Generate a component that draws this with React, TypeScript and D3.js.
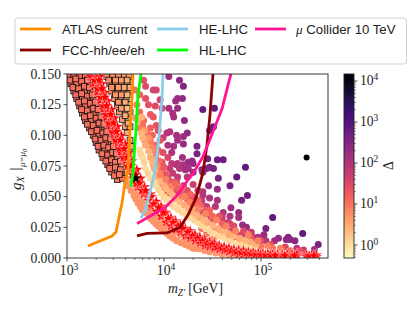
import React from "react";
import * as d3 from "d3";

// Mass values are log10(m / GeV); deltas are the colour-bar values
const outerDots: number[][] = [
  [4.05,.148,150],[4.16,.145,250],[4.20,.140,300],[4.19,.130,220],[4.14,.130,180],[4.12,.128,160],[4.05,.122,130],[4.14,.122,170],
  [4.40,.121,600],[4.52,.122,650],[4.09,.118,130],[4.10,.115,130],[4.21,.112,220],[4.24,.102,220],[4.20,.099,170],[4.13,.100,130],
  [4.14,.096,140],[4.06,.103,100],[4.03,.102,90],[4.20,.093,180],[4.10,.091,120],[4.04,.092,100],[4.34,.091,350],[4.34,.085,350],
  [4.51,.107,600],[4.47,.104,550],[4.08,.086,100],[4.19,.082,130],[4.45,.081,450],[4.55,.080,500],[4.61,.080,550],[4.84,.074,750],
  [4.29,.079,200],[4.25,.078,180],[4.30,.077,200],[4.20,.076,120],[4.13,.076,100],[4.22,.072,130],[4.47,.074,350],[4.51,.073,400],
  [4.44,.073,300],[4.39,.072,250],[4.40,.070,220],[4.46,.059,180],[4.56,.065,350],[4.75,.066,650],[4.68,.059,450],[4.55,.056,170],
  [4.86,.051,450],[4.80,.047,400],[5.12,.033,650],[5.05,.024,350],[5.43,.020,700],[5.59,.011,400],[5.55,.007,180],
];
const midDots: number[][] = [
  [3.99,.098,60],[4.14,.077,90],[4.08,.077,70],[4.06,.073,60],[4.16,.073,90],[4.25,.073,130],[4.30,.070,150],[4.09,.069,60],
  [4.14,.066,60],[4.24,.066,90],[3.99,.069,40],[4.04,.065,40],[3.99,.062,30],[4.06,.061,40],[4.13,.062,50],[4.20,.059,60],
  [3.96,.058,22],[4.01,.055,25],[4.09,.057,30],[4.14,.054,35],[4.06,.053,25],[4.47,.049,100],[4.55,.047,120],[4.40,.054,90],
  [4.40,.051,80],[4.39,.046,60],[4.44,.042,60],[4.53,.042,80],[4.69,.041,150],[4.61,.037,90],[4.77,.037,170],[4.68,.034,100],
  [4.60,.033,60],[4.77,.033,130],[4.81,.027,170],[4.85,.025,180],[4.61,.029,45],[4.66,.029,50],[4.47,.035,35],[4.49,.032,30],
  [4.40,.037,30],[4.59,.025,28],[4.69,.022,30],[5.03,.019,180],[4.92,.017,80],[4.97,.017,100],[4.87,.015,50],[5.05,.014,90],
  [4.94,.013,50],[5.18,.016,200],[5.14,.014,150],[5.28,.017,280],[5.26,.015,250],[5.30,.015,250],[5.35,.014,250],[5.37,.008,80],
  [5.44,.0065,60],[5.44,.004,30],[4.81,.019,60],[4.76,.019,50],[4.71,.020,40],[4.80,.016,35],[4.66,.016,20],[4.73,.016,25],
  [4.56,.019,14],[4.51,.016,8],[4.44,.020,10],[4.42,.029,20],[4.51,.024,20],[4.39,.024,12],
];
const leftDots: number[][] = [
  [3.79,.145,25],[3.81,.140,30],[3.89,.137,40],[3.92,.137,40],[3.81,.130,25],[3.84,.125,25],[3.91,.124,30],[3.96,.129,45],
  [3.98,.122,40],[3.86,.117,18],[3.89,.115,20],[3.75,.119,12],[3.79,.112,12],[3.78,.108,11],[3.92,.108,25],[3.86,.106,15],
  [3.94,.104,25],[3.82,.102,12],[3.88,.100,14],[3.77,.102,8],[3.75,.106,8],[3.70,.137,10],[3.75,.133,14],[3.72,.125,8],
  [3.71,.114,6],[3.91,.092,14],[3.96,.096,22],[3.86,.095,8],[3.80,.096,5],[3.94,.088,14],[3.99,.086,25],[4.04,.082,35],
  [3.98,.078,22],[3.91,.082,10],[3.86,.088,6],[3.94,.073,12],[3.89,.076,5],
];
const fillDots: number[][] = [
  [3.80,.104,4],[3.84,.098,5],[3.88,.090,6],[3.92,.085,8],[3.95,.079,12],[3.90,.080,4],[3.93,.075,6],[3.97,.071,10],[4.00,.074,18],
  [4.02,.068,20],[3.98,.064,8],[4.03,.059,8],[4.07,.056,10],[4.09,.062,22],[4.14,.057,16],[4.18,.054,18],[4.16,.049,9],[4.24,.048,12],
  [4.24,.055,30],[4.30,.050,25],[4.31,.044,10],[4.37,.043,14],[4.43,.039,18],[4.47,.039,14],[4.50,.034,14],[4.57,.034,22],[4.60,.028,18],
  [4.68,.028,40],[4.72,.026,30],[4.58,.021,8],[4.69,.019,10],[4.82,.022,30],[4.90,.021,50],[5.00,.014,30],[5.10,.011,25],[5.25,.009,30],
  [5.40,.006,25],[4.78,.013,5],[4.90,.016,20],[5.00,.009,10],[5.12,.008,10],[5.30,.006,12],[4.30,.060,50],[4.35,.055,60],
];
const paleDots: number[][] = [
  [3.75,.088,1],[3.78,.082,1],[3.81,.073,1],[3.86,.065,1],[3.92,.059,1],[3.97,.053,1],[4.03,.047,1],[4.10,.042,1],
  [4.19,.037,1],[4.27,.033,1],[4.35,.029,1],[4.43,.024,1],[4.52,.020,1],[4.62,.016,1],[4.74,.012,1],[4.85,.010,1],
  [3.76,.085,1.2],[3.795,.078,1.2],[3.835,.069,1.2],[3.89,.062,1.2],[3.945,.056,1.2],[4.00,.050,1.2],[4.065,.0445,1.2],[4.145,.0395,1.2],
  [4.23,.035,1.2],[4.31,.031,1.2],[4.39,.0265,1.2],[4.475,.022,1.2],[4.57,.018,1.2],[4.68,.014,1.2],[4.80,.011,1.2],[4.92,.0085,1.2],
  [3.73,.112,3],[3.81,.092,3],[3.86,.082,3],[3.90,.073,3],[3.94,.066,3],[4.00,.059,3],[4.06,.054,3],[4.12,.048,3],
  [4.21,.043,3],[4.29,.038,3],[4.37,.033,3],[4.45,.029,3],[4.56,.024,3],[4.66,.020,3],[4.78,.016,3],[4.89,.013,3],
  [3.77,.102,2.5],[3.84,.087,2.5],[3.88,.078,2.5],[3.92,.0695,2.5],[3.97,.0625,2.5],[4.03,.0565,2.5],[4.09,.051,2.5],[4.165,.0455,2.5],
  [4.25,.0405,2.5],[4.33,.0355,2.5],[4.41,.031,2.5],[4.505,.0265,2.5],[4.61,.022,2.5],[4.72,.018,2.5],[4.84,.0145,2.5],[4.95,.0115,2.5],
  [3.77,.115,2.5],[3.78,.098,2.5],
  [3.96,.068,7],[4.02,.064,7],[4.08,.059,7],[4.21,.050,7],[4.27,.045,7],[4.35,.040,7],[4.43,.036,7],[4.54,.031,7],
  [4.64,.026,7],[4.74,.022,7],[4.87,.019,7],[4.97,.014,7],[5.07,.010,7],[5.20,.008,7],
  [4.12,.061,14],[4.19,.057,14],[4.27,.052,14],[4.35,.047,14],
];
const lowerBand: number[][] = [
  [3.60,.065,5],[3.63,.059,5],[3.69,.051,5],[3.73,.045,5],[3.78,.039,5],[3.84,.035,5],[3.89,.030,5],[3.94,.026,5],
  [4.00,.022,5],[4.06,.018,5],[4.13,.014,5],[4.22,.011,5],[4.30,.008,5],[4.37,.0075,5],[4.47,.005,5],[4.60,.003,5],
  [4.74,.0018,5],[3.70,.055,5],[3.75,.049,5],[3.81,.042,5],[3.88,.037,5],[3.96,.031,5],[4.04,.026,5],[4.12,.021,5],
  [4.23,.016,5],[4.33,.012,5],[4.43,.010,5],[4.54,.0065,5],[4.66,.005,5],
  [3.58,.070,5],[3.615,.062,5],[3.66,.055,5],[3.71,.048,5],[3.755,.042,5],[3.81,.037,5],[3.865,.032,5],[3.915,.028,5],
  [3.97,.024,5],[4.03,.020,5],[4.095,.016,5],[4.175,.0125,5],[4.26,.0095,5],[4.335,.0078,5],[4.42,.0062,5],[4.535,.004,5],
  [4.67,.0024,5],[4.85,.0012,5],[3.72,.052,5],[3.78,.046,5],[3.845,.040,5],[3.92,.034,5],[4.00,.0285,5],[4.08,.0235,5],
  [4.175,.0185,5],[4.28,.014,5],[4.38,.011,5],[4.485,.008,5],[4.60,.0055,5],[4.72,.004,5],[4.85,.0025,5],[5.00,.0012,5],
];
const blackDot: number[][] = [[5.47,.082,14000]];
const leftSquares: number[][] = [
  [3.01,.148,12],[3.07,.148,14],[3.13,.148,14],[3.19,.148,12],[3.04,.142,12],[3.10,.142,11],[3.16,.142,14],[3.21,.142,12],
  [3.07,.136,11],[3.13,.136,12],[3.19,.136,14],[3.24,.136,11],[3.10,.130,12],[3.16,.130,11],[3.22,.130,12],[3.27,.130,14],
  [3.13,.124,12],[3.19,.124,14],[3.25,.124,11],[3.30,.124,12],[3.16,.118,11],[3.22,.118,12],[3.28,.118,12],[3.33,.118,11],
  [3.19,.112,12],[3.25,.112,11],[3.31,.112,14],[3.36,.112,11],[3.23,.106,12],[3.29,.106,12],[3.35,.106,11],[3.39,.106,10],
  [3.27,.100,12],[3.33,.100,11],[3.38,.100,11],[3.43,.100,10],[3.30,.094,11],[3.36,.094,12],[3.41,.094,10],[3.46,.094,10],
  [3.33,.088,12],[3.39,.088,11],[3.45,.088,10],[3.49,.088,10],[3.37,.082,12],[3.43,.082,10],[3.48,.082,10],[3.52,.082,10],
  [3.42,.076,11],[3.47,.076,10],[3.52,.076,10],[3.56,.076,9],[3.46,.070,10],[3.52,.070,10],[3.56,.070,9],[3.52,.064,9],[3.57,.065,9],
];
const leftSquaresB: number[][] = [
  [3.03,.145,12],[3.09,.146,11],[3.15,.144,12],[3.21,.145,11],[3.06,.139,12],[3.12,.138,11],[3.18,.140,12],[3.23,.139,11],
  [3.09,.133,12],[3.15,.134,11],[3.21,.132,12],[3.26,.133,11],[3.12,.127,12],[3.18,.128,11],[3.24,.126,12],[3.29,.127,11],
  [3.15,.121,12],[3.21,.120,11],[3.27,.122,12],[3.32,.121,11],[3.18,.115,12],[3.24,.116,11],[3.30,.114,12],[3.35,.115,11],
  [3.21,.109,12],[3.27,.108,11],[3.33,.110,12],[3.38,.109,10],[3.25,.103,12],[3.31,.104,11],[3.37,.102,11],[3.41,.103,10],
  [3.29,.097,12],[3.35,.096,11],[3.40,.098,11],[3.45,.097,10],[3.32,.091,12],[3.38,.092,11],[3.43,.090,10],[3.48,.091,10],
  [3.36,.085,11],[3.42,.084,11],[3.47,.086,10],[3.51,.085,10],[3.40,.079,11],[3.46,.080,10],[3.50,.078,10],[3.55,.079,9],
  [3.44,.073,11],[3.50,.074,10],[3.55,.072,9],[3.49,.067,10],[3.54,.068,9],
];
const rightSquares: number[][] = [
  [3.41,.148,7],[3.47,.148,6],[3.53,.148,5],[3.59,.148,4],[3.64,.148,4],[3.44,.142,7],[3.50,.142,5],[3.56,.142,4],[3.62,.142,3],
  [3.46,.136,7],[3.52,.136,5],[3.58,.136,3],[3.64,.136,3],[3.49,.130,6],[3.55,.130,4],[3.61,.130,3],[3.52,.125,6],[3.58,.125,3],[3.64,.125,2],
  [3.54,.119,5],[3.60,.119,3],[3.65,.119,2],[3.57,.113,4],[3.63,.113,2],[3.60,.107,4],[3.65,.107,2],[3.62,.102,3],[3.65,.096,3],[3.66,.091,3],[3.66,.085,3],
  [3.43,.145,6],[3.50,.145,5],[3.56,.145,4],[3.62,.145,3],[3.46,.139,6],[3.53,.139,4],[3.59,.139,3],[3.65,.139,3],[3.50,.133,5],
  [3.56,.133,4],[3.62,.133,2.5],[3.53,.127,5],[3.60,.127,3],[3.56,.122,4],[3.62,.122,2],[3.60,.116,3],[3.63,.110,3],
];
const redStars: number[][] = [
  [3.24,.148],[3.29,.148],[3.34,.148],[3.26,.142],[3.31,.142],[3.36,.142],[3.31,.135],[3.35,.135],[3.39,.135],
  [3.34,.128],[3.38,.128],[3.42,.128],[3.37,.121],[3.42,.121],[3.46,.121],[3.40,.114],[3.44,.114],[3.49,.114],
  [3.44,.107],[3.48,.107],[3.52,.107],[3.48,.100],[3.52,.100],[3.56,.100],[3.52,.093],[3.56,.093],[3.60,.093],
  [3.55,.086],[3.60,.086],[3.64,.086],[3.60,.079],[3.64,.079],[3.67,.079],[3.64,.072],[3.68,.072],[3.72,.072],
  [3.68,.065],[3.72,.065],[3.76,.065],[3.73,.058],[3.77,.058],[3.80,.058],[3.79,.052],[3.83,.052],[3.86,.052],
  [3.87,.042],[3.87,.050],[3.92,.038],[3.92,.046],[3.97,.034],[3.97,.042],[4.02,.029],[4.02,.037],[4.07,.026],[4.07,.033],
  [4.12,.023],[4.12,.030],[4.17,.021],[4.17,.027],[4.22,.018],[4.22,.024],[4.27,.016],[4.27,.022],[4.32,.014],[4.32,.019],
  [4.37,.012],[4.37,.017],[4.42,.010],[4.42,.015],[4.47,.009],[4.47,.013],[4.52,.008],[4.52,.012],[4.57,.007],[4.57,.010],
  [4.62,.006],[4.62,.009],[4.67,.005],[4.67,.008],[4.72,.004],[4.72,.007],[4.77,.003],[4.77,.0065],[4.82,.003],[4.82,.006],
  [4.87,.0025],[4.87,.005],[4.92,.002],[4.92,.0045],[4.97,.002],[4.97,.004],[5.02,.002],[5.02,.0035],[5.07,.0015],[5.07,.0035],
  [5.12,.0015],[5.12,.003],[5.17,.0015],[5.17,.003],[5.22,.0015],[5.22,.003],[5.27,.0015],[5.27,.003],[5.32,.0015],[5.32,.003],
  [5.37,.0015],[5.37,.003],[5.47,.001],[5.47,.0025],[5.52,.001],[5.52,.0025],[5.57,.001],[5.57,.0025],
];
const redStarsCentre: number[][] = [
  [3.28,.145],[3.33,.145],[3.31,.138],[3.36,.138],[3.34,.131],[3.39,.131],[3.37,.124],[3.41,.124],[3.40,.117],[3.45,.117],
  [3.43,.110],[3.48,.110],[3.47,.103],[3.51,.103],[3.50,.096],[3.55,.096],[3.54,.089],[3.59,.089],[3.58,.082],[3.62,.082],
  [3.62,.075],[3.66,.075],[3.67,.068],[3.71,.068],[3.71,.061],[3.75,.061],[3.77,.055],[3.81,.055],[3.84,.047],[3.89,.044],
  [3.895,.044],[3.945,.041],[3.995,.037],[4.045,.032],[4.095,.029],[4.145,.026],[4.195,.024],[4.245,.021],[4.295,.018],[4.345,.016],
  [4.395,.014],[4.445,.012],[4.495,.011],[4.545,.009],[4.595,.008],[4.645,.007],[4.695,.006],[4.745,.005],[4.795,.0045],[4.845,.004],
  [4.895,.0035],[4.945,.003],[4.995,.003],[5.045,.0025],[5.095,.0025],[5.145,.002],[5.245,.002],[5.345,.002],[5.495,.002],[5.545,.002],
];
const blackStar: number[][] = [[3.71,.065]];

const atlas = [[3.216,.0098],[3.464,.0179],[3.505,.0212],[3.567,.0448],[3.598,.0611],[3.629,.0717],[3.649,.1027],[3.67,.130],[3.68,.150]];
const hlLhc = [[3.66,.058],[3.68,.070],[3.71,.103],[3.73,.131],[3.763,.150]];
const heLhc = [[3.763,.0326],[3.804,.039],[3.856,.053],[3.907,.072],[3.948,.098],[3.979,.130],[3.99,.150]];
const muon = [[3.722,.028],[3.876,.035],[4.01,.041],[4.134,.051],[4.247,.0636],[4.30,.069],[4.40,.0823],[4.505,.103],[4.60,.122],[4.66,.141],[4.69,.150]];
const fcc = [[3.722,.018],[3.825,.020],[4.03,.0204],[4.165,.025],[4.247,.035],[4.33,.049],[4.40,.069],[4.443,.092],[4.474,.1165],[4.505,.150]];

const yTicks = [0, 0.025, 0.05, 0.075, 0.1, 0.125, 0.15];
const xDecades = [3, 4, 5];
const cbDecades = [0, 1, 2, 3, 4];
const minorFactors = [2, 3, 4, 5, 6, 7, 8, 9];

const W = 415, H = 311;
const L = 67, R = 328, T = 74, B = 258;
const serif = "'Liberation Serif', serif";
const sans = "'Liberation Sans', sans-serif";

export default function App() {
  const x = d3.scaleLog().domain([1000, Math.pow(10, 3 + 261 / 97)]).range([L, R]);
  const y = d3.scaleLinear().domain([0, 0.15]).range([B, T]);
  const cb = d3.scaleLog().domain([Math.pow(10, -0.317), Math.pow(10, 4.17)]).range([B, T]);
  const colour = (v: number) => d3.interpolateMagma(1 - (Math.log10(v) + 0.317) / (4.17 + 0.317));
  const px = (lm: number) => x(Math.pow(10, lm));
  const line = d3.line<number[]>().x(d => px(d[0])).y(d => y(d[1]));
  const star = d3.symbol().type(d3.symbolStar);
  const cbStops = d3.range(0, 1.001, 0.05);

  const series: [number[][], string][] = [[atlas, "#ff8c00"], [fcc, "#8b0000"], [heLhc, "#87ceeb"], [hlLhc, "#00ff00"], [muon, "#ff1493"]];
  const legend = [
    { c: "#ff8c00", x: 20, y: 29, t: "ATLAS current" },
    { c: "#8b0000", x: 20, y: 50, t: "FCC-hh/ee/eh" },
    { c: "#87ceeb", x: 157, y: 29, t: "HE-LHC" },
    { c: "#00ff00", x: 157, y: 50, t: "HL-LHC" },
    { c: "#ff1493", x: 255, y: 29, t: "Collider 10 TeV" },
  ];
  const dots = [...outerDots, ...midDots, ...leftDots, ...fillDots, ...paleDots, ...lowerBand];
  const stars = [...redStars, ...redStarsCentre];

  return (
    <svg width={W} height={H} style={{ position: "absolute", left: 0, top: 0, background: "#fff" }}>
      <defs>
        <clipPath id="plot"><rect x={L} y={T} width={R - L} height={B - T} /></clipPath>
        <linearGradient id="cbar" x1="0" x2="0" y1="1" y2="0">
          {cbStops.map(t => <stop key={t} offset={t} stopColor={d3.interpolateMagma(1 - t)} />)}
        </linearGradient>
      </defs>

      <g clipPath="url(#plot)">
        {dots.map((d, i) => <circle key={i} cx={px(d[0])} cy={y(d[1])} r={3.5} fill={colour(d[2])} />)}
        {[...leftSquares, ...leftSquaresB, ...rightSquares].map((d, i) => (
          <rect key={i} x={px(d[0]) - 2.9} y={y(d[1]) - 2.9} width={5.8} height={5.8} fill={colour(d[2])} stroke="#111" strokeWidth={0.8} />
        ))}
        {stars.map((d, i) => (
          <path key={i} d={star.size(42)()!} transform={`translate(${px(d[0])},${y(d[1])})`} fill="#ff0000" stroke="#fff" strokeWidth={0.35} />
        ))}
        {blackStar.map((d, i) => (
          <path key={i} d={star.size(38)()!} transform={`translate(${px(d[0])},${y(d[1])})`} fill="#000" />
        ))}
        {blackDot.map((d, i) => <circle key={i} cx={px(d[0])} cy={y(d[1])} r={3} fill="#000" />)}
        {series.map(([s, c], i) => (
          <path key={i} d={line(s)!} fill="none" stroke={c} strokeWidth={2.8} />
        ))}
      </g>

      <rect x={L} y={T} width={R - L} height={B - T} fill="none" stroke="#222" strokeWidth={0.9} />

      {yTicks.map(t => (
        <g key={t}>
          <line x1={L - 3.5} x2={L} y1={y(t)} y2={y(t)} stroke="#222" strokeWidth={0.8} />
          <text x={L - 6} y={y(t) + 4.5} textAnchor="end" fontFamily={serif} fontSize={13.6} fill="#222">{t.toFixed(3)}</text>
        </g>
      ))}
      {xDecades.map(e => (
        <g key={e}>
          <line x1={x(Math.pow(10, e))} x2={x(Math.pow(10, e))} y1={B} y2={B + 3.5} stroke="#222" strokeWidth={0.8} />
          <text x={x(Math.pow(10, e)) + 2} y={B + 17} textAnchor="middle" fontFamily={serif} fontSize={13.6} fill="#222">
            10<tspan dy={-5} fontSize={9.5}>{e}</tspan>
          </text>
          {minorFactors.map(f => {
            const v = f * Math.pow(10, e);
            return v < x.domain()[1] ? <line key={f} x1={x(v)} x2={x(v)} y1={B} y2={B + 2} stroke="#222" strokeWidth={0.6} /> : null;
          })}
        </g>
      ))}

      <text x={168} y={293} fontFamily={serif} fontSize={13.6} fill="#222">
        <tspan fontStyle="italic">m</tspan>
        <tspan dy={3} fontSize={9.5} fontStyle="italic">Z′</tspan>
        <tspan dy={-3} dx={3}>[GeV]</tspan>
      </text>

      <g transform="translate(21,190) rotate(-90)" fontFamily={serif} fill="#222">
        <text fontSize={15} fontStyle="italic">g<tspan dy={3} fontSize={10}>X</tspan></text>
        <rect x={20.5} y={-11} width={0.9} height={13} fill="#222" />
        <text x={23} y={4} fontSize={9} fontStyle="italic">μ=μ<tspan dy={1.5} fontSize={6.5}>0</tspan></text>
      </g>

      <rect x={344} y={T} width={10} height={B - T} fill="url(#cbar)" stroke="#222" strokeWidth={0.9} />
      {cbDecades.map(e => (
        <g key={e}>
          <line x1={354} x2={357.5} y1={cb(Math.pow(10, e))} y2={cb(Math.pow(10, e))} stroke="#222" strokeWidth={0.8} />
          <text x={360} y={cb(Math.pow(10, e)) + 4.5} fontFamily={serif} fontSize={13.6} fill="#222">
            10<tspan dy={-5} fontSize={9.5}>{e}</tspan>
          </text>
        </g>
      ))}
      {[-1, 0, 1, 2, 3, 4].flatMap(e => minorFactors.map(f => f * Math.pow(10, e))).filter(v => v > cb.domain()[0] && v < cb.domain()[1]).map(v => (
        <line key={v} x1={354} x2={356} y1={cb(v)} y2={cb(v)} stroke="#222" strokeWidth={0.5} />
      ))}
      <text transform="translate(393,170) rotate(-90)" fontFamily={serif} fontSize={13.6} fill="#222">Δ</text>

      <rect x={15} y={18} width={391.5} height={46} rx={3} fill="#fff" fillOpacity={0.85} stroke="#ccc" strokeWidth={0.9} />
      {legend.map(l => (
        <g key={l.t}>
          <line x1={l.x} x2={l.x + 31} y1={l.y} y2={l.y} stroke={l.c} strokeWidth={2.8} />
          {l.t.startsWith("Collider") ? (
            <text x={l.x + 41} y={l.y + 5} fontFamily={sans} fontSize={13.2} fill="#222">
              <tspan fontFamily={serif} fontStyle="italic">μ</tspan> {l.t}
            </text>
          ) : (
            <text x={l.x + 42} y={l.y + 5} fontFamily={sans} fontSize={13.2} fill="#222">{l.t}</text>
          )}
        </g>
      ))}
    </svg>
  );
}
